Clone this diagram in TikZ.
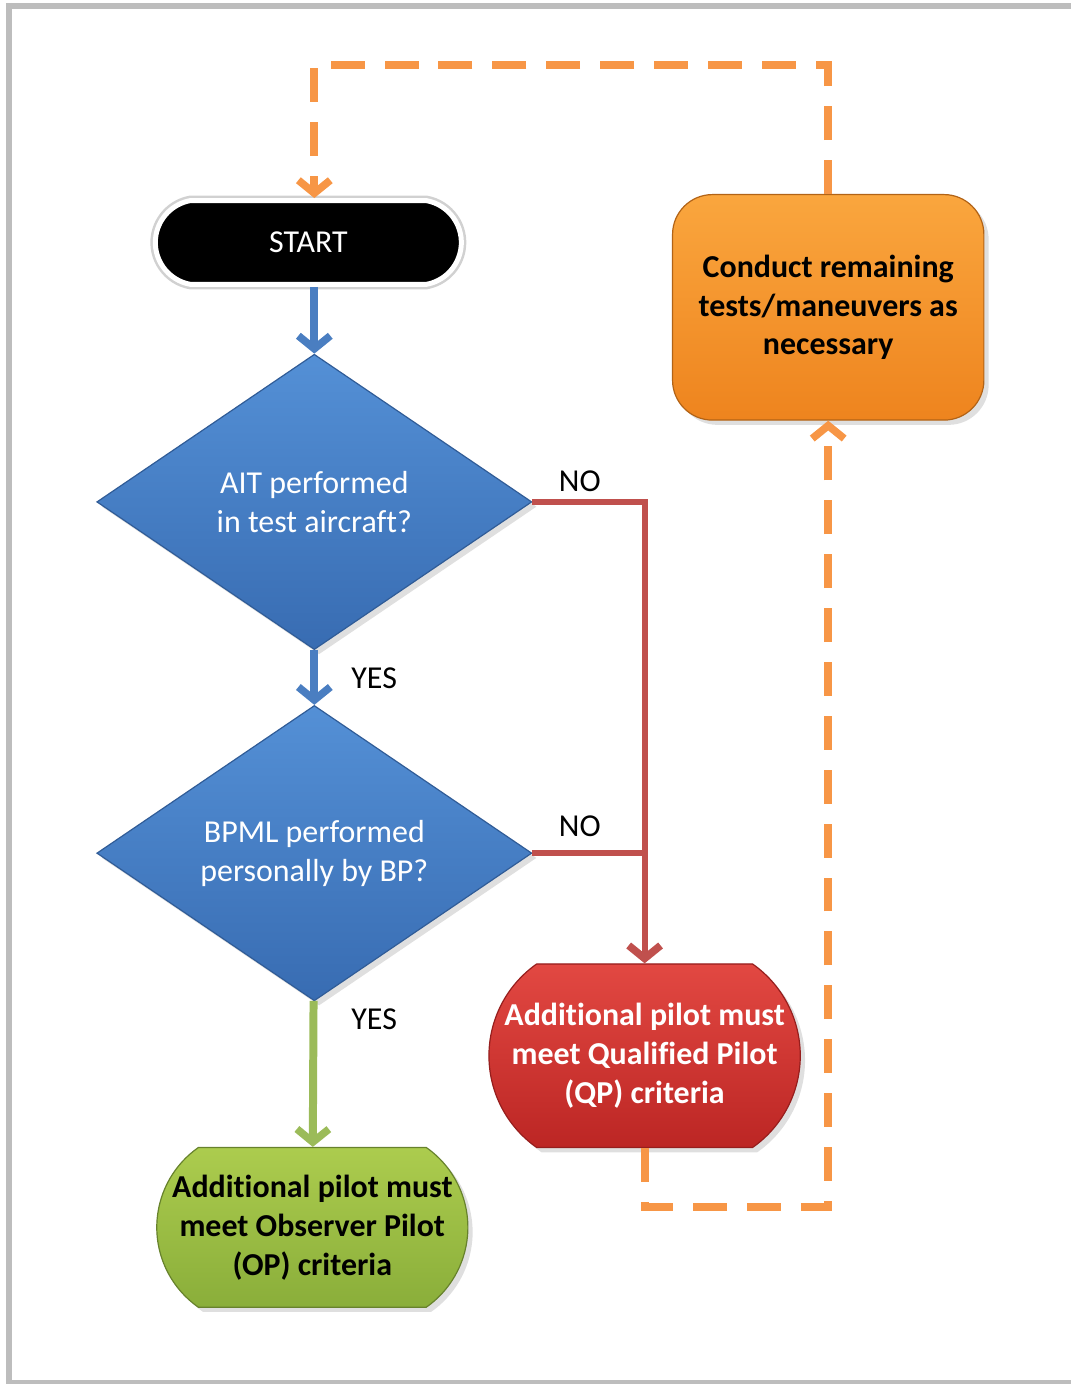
\documentclass[tikz,border=0pt]{standalone}
\usepackage{fontspec}
\setmainfont[Ligatures=NoCommon]{Carlito}
\usepackage{tikz}
\usetikzlibrary{arrows.meta, shapes.geometric, shapes.misc, shadows, positioning}
\tikzset{>={Straight Barb[length=6.5pt,width=16pt,line width=3.8pt]}}

\definecolor{flowblue}{RGB}{74,126,193}
\definecolor{diatop}{RGB}{84,144,214}
\definecolor{diabot}{RGB}{56,108,178}
\definecolor{flowred}{RGB}{192,80,77}
\definecolor{qptop}{RGB}{226,72,66}
\definecolor{qpbot}{RGB}{188,38,36}
\definecolor{flowgreen}{RGB}{155,187,89}
\definecolor{optop}{RGB}{172,204,78}
\definecolor{opbot}{RGB}{138,174,58}
\definecolor{floworange}{RGB}{247,150,70}
\definecolor{cotop}{RGB}{250,166,62}
\definecolor{cobot}{RGB}{238,132,30}
\definecolor{framegray}{RGB}{189,189,189}
\newcommand{\flowfont}{\fontsize{16}{19.5}\selectfont}

\begin{document}
\begin{tikzpicture}[x=0.5pt,y=-0.5pt,font=\flowfont,
    terminal/.style={rounded rectangle, rounded rectangle arc length=160, fill=black, text=white,
        draw=white, line width=2.5pt, preaction={draw=black!18, line width=5pt},
        minimum width=160pt, minimum height=42pt},
    decision/.style={diamond, top color=diatop, bottom color=diabot,
        draw=diabot!85!black, line width=.6pt, text=white, align=center, inner sep=0pt,
        minimum width=218pt, minimum height=148pt, drop shadow={opacity=.25}},
    outcome/.style={rounded rectangle, rounded rectangle arc length=110, align=center,
        inner xsep=0pt, font=\flowfont\bfseries, line width=.6pt, drop shadow={opacity=.25}},
    flowline/.style={line width=4pt},
    dashline/.style={floworange, line width=4pt, dash pattern=on 17pt off 10pt}]

        % frame
        \draw [framegray, line width=3pt] (6,6)--(1073,6);
        \draw [framegray, line width=3pt] (9,3)--(9,1387);
        \draw [framegray, line width=2pt] (6,1385)--(1073,1385);
        \useasboundingbox (0,0) rectangle (1073,1387);

        \node (start) at (309,243) [terminal] {START};
        \node (ait) at (315,503) [decision] {AIT performed\\in test aircraft?};
        \node (bpml) at (315,855) [decision] {BPML performed\\personally by BP?};
        \node (qp) at (646,1058) [outcome, top color=qptop, bottom color=qpbot,
            draw=qpbot!80!black, text=white, minimum width=156pt, minimum height=92pt]
            {Additional pilot must\\meet Qualif\kern0pt ied Pilot\\(QP) criteria};
        \node (op) at (313,1230) [outcome, top color=optop, bottom color=opbot,
            draw=opbot!75!black, text=black, minimum width=152pt, minimum height=80pt]
            {Additional pilot must\\meet Observer Pilot\\(OP) criteria};
        \node (conduct) at (830,308) [rectangle, rounded corners=20pt, align=center,
            top color=cotop, bottom color=cobot, draw=cobot!75!black,
            line width=.6pt, font=\flowfont\bfseries, minimum width=156pt, minimum height=113pt,
            drop shadow={opacity=.25}]
            {Conduct remaining\\tests/maneuvers as\\necessary};

        % labels
        \node (no1) at (581,482) {NO};
        \node (no2) at (581,828) {NO};
        \node (yes1) at (375,680) {YES};
        \node (yes2) at (375,1021) {YES};
        \coordinate (looptop) at (830,65);
        \coordinate (loopbot) at (646,1210);

        % connectors
        \draw [flowblue, flowline, ->] (start.south -| ait.north) -- (ait);
        \draw [flowblue, flowline, ->] (ait) -- (bpml);
        \draw [flowgreen, flowline, ->] (bpml) -- (op);
        \draw [flowred, line width=3pt, ->] (ait.east) -| (qp.north);
        \draw [flowred, line width=3pt] (bpml.east) -- (qp.north |- bpml.east);
        \draw [dashline, ->] (qp.south) -- (loopbot) -| (conduct.south);
        \draw [dashline, ->] (conduct.north) -- (looptop) -| (start.north -| ait.north);
\end{tikzpicture}
\end{document}
